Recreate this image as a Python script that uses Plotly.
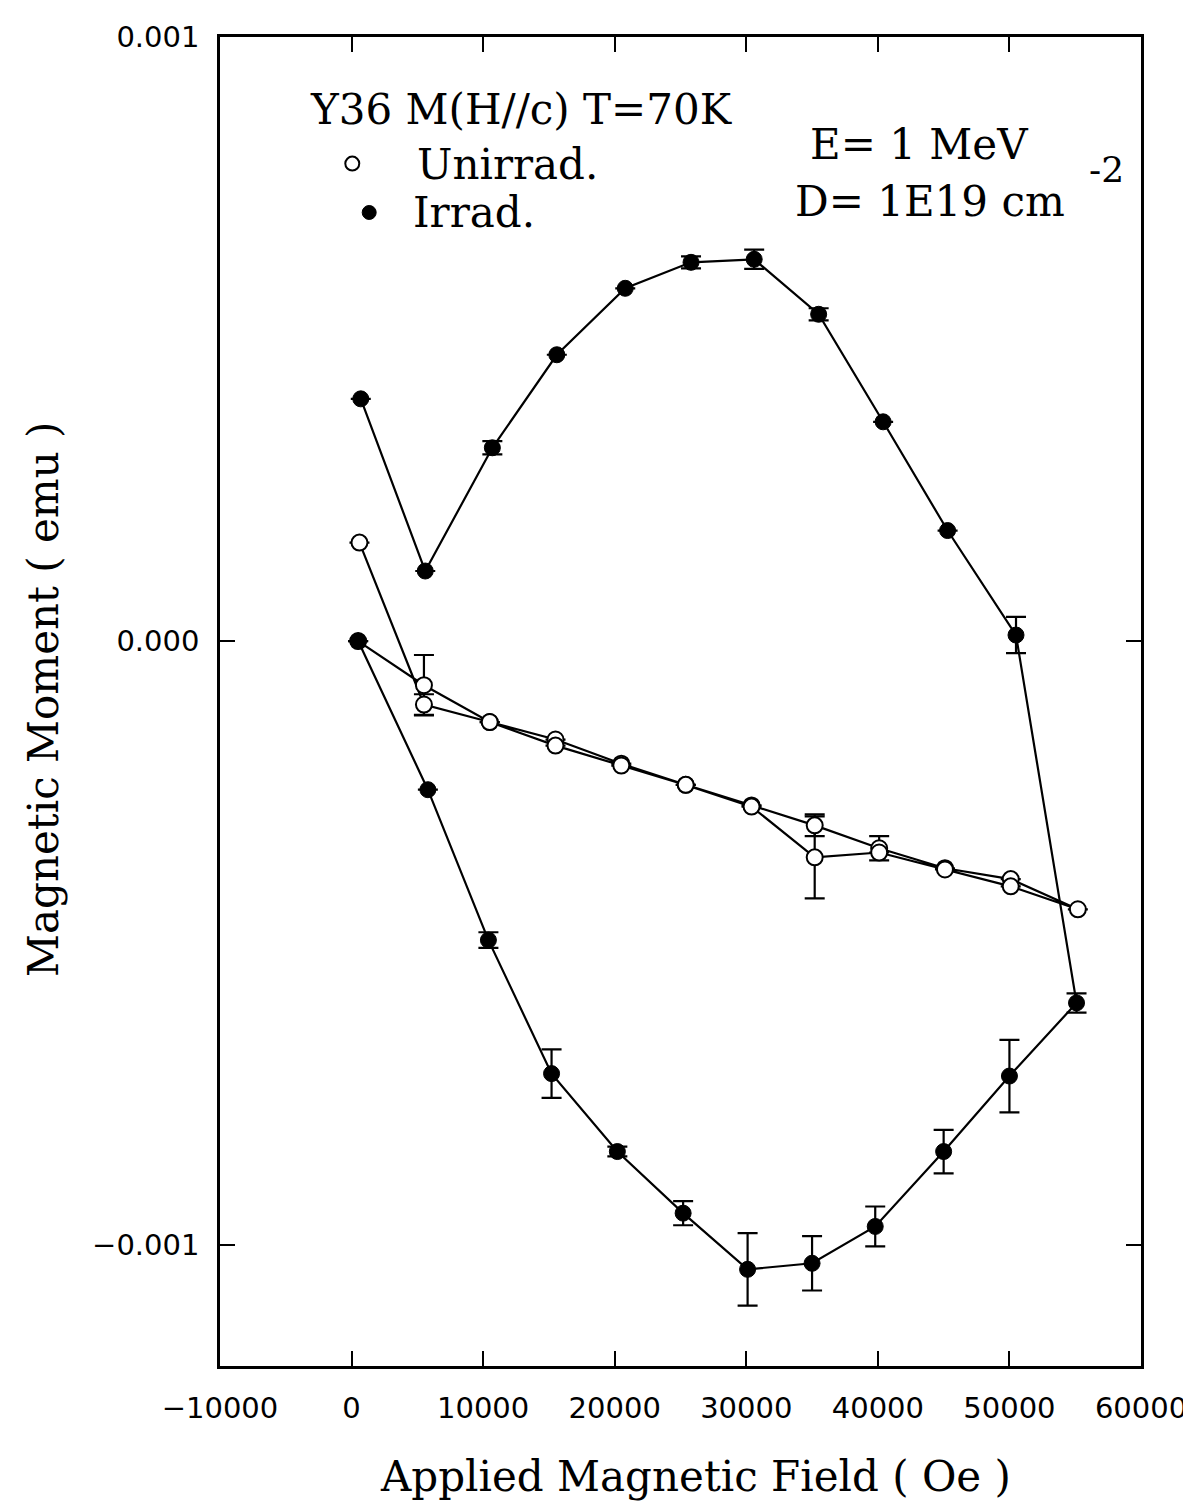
import plotly.graph_objects as go

# ---- Data ----
# Unirradiated (open circles), measurement order
unirr_H = [500, 5500, 10500, 15500, 20500, 25400, 30400, 35200, 40100, 45100, 50100, 55200,
           50100, 45100, 40100, 35200, 30400, 25400, 20500, 15500, 10500, 5500, 600]
unirr_M = [0.0, -0.73e-4, -1.34e-4, -1.63e-4, -2.03e-4, -2.38e-4, -2.72e-4, -3.05e-4, -3.43e-4,
           -3.76e-4, -3.94e-4, -4.44e-4,
           -4.06e-4, -3.78e-4, -3.50e-4, -3.58e-4, -2.74e-4, -2.38e-4, -2.06e-4, -1.73e-4,
           -1.34e-4, -1.05e-4, 1.63e-4]
unirr_err = [0, 0.50e-4, 0, 0, 0, 0, 0, 0.18e-4, 0.20e-4, 0, 0, 0,
             0, 0, 0, 0.68e-4, 0, 0, 0, 0, 0, 0.17e-4, 0]

# Irradiated (filled circles), measurement order
irr_H = [500, 5800, 10400, 15200, 20200, 25200, 30100, 35000, 39800, 45000, 50000, 55100,
         50500, 45300, 40400, 35500, 30600, 25800, 20800, 15600, 10700, 5600, 700]
irr_M = [0.0, -2.46e-4, -4.95e-4, -7.16e-4, -8.45e-4, -9.47e-4, -10.4e-4, -10.3e-4, -9.69e-4,
         -8.45e-4, -7.20e-4, -5.99e-4,
         0.10e-4, 1.83e-4, 3.63e-4, 5.41e-4, 6.32e-4, 6.27e-4, 5.84e-4, 4.74e-4, 3.20e-4,
         1.16e-4, 4.01e-4]
irr_err = [0, 0, 0.13e-4, 0.40e-4, 0.08e-4, 0.20e-4, 0.60e-4, 0.45e-4, 0.33e-4, 0.36e-4,
           0.60e-4, 0.16e-4,
           0.30e-4, 0, 0, 0.10e-4, 0.16e-4, 0.10e-4, 0, 0, 0.11e-4, 0, 0]

x_ticks = [-10000, 0, 10000, 20000, 30000, 40000, 50000, 60000]
x_tick_labels = ["\u221210000", "0", "10000", "20000", "30000", "40000", "50000", "60000"]
y_ticks = [-0.001, 0.0, 0.001]
y_tick_labels = ["\u22120.001", "0.000", "0.001"]

SERIF = "DejaVu Serif"
SANS = "DejaVu Sans"

fig = go.Figure()

fig.add_trace(go.Scatter(
    x=unirr_H, y=unirr_M, mode="lines+markers",
    line=dict(color="black", width=2.2),
    marker=dict(symbol="circle", size=16, color="white", line=dict(color="black", width=2)),
    error_y=dict(type="data", array=unirr_err, visible=True, color="black", thickness=2.2, width=10),
    showlegend=False,
))
fig.add_trace(go.Scatter(
    x=irr_H, y=irr_M, mode="lines+markers",
    line=dict(color="black", width=2.2),
    marker=dict(symbol="circle", size=16, color="black", line=dict(color="black", width=1)),
    error_y=dict(type="data", array=irr_err, visible=True, color="black", thickness=2.2, width=10),
    showlegend=False,
))

L, R, T, B = 212, 1138, 25, 1358
W, H = 1191, 1504


def px(xp):
    return (xp - L) / (R - L)


def py(yp):
    return (B - yp) / (B - T)


annotations = [
    dict(text="Y36 M(H//c) T=70K", x=px(300), y=py(98), xanchor="left", yanchor="middle"),
    dict(text="Unirrad.", x=px(408), y=py(153), xanchor="left", yanchor="middle"),
    dict(text="Irrad.", x=px(404), y=py(201), xanchor="left", yanchor="middle"),
    dict(text="E= 1 MeV", x=px(803), y=py(133), xanchor="left", yanchor="middle"),
    dict(text="D= 1E19 cm", x=px(788), y=py(190), xanchor="left", yanchor="middle"),
    dict(text="-2", x=px(1084), y=py(158), xanchor="left", yanchor="middle", size=36),
    dict(text="Applied Magnetic Field ( Oe )", x=px(690), y=0, yshift=-(1468 - B),
         xanchor="center", yanchor="middle"),
    dict(text="Magnetic Moment ( emu )", x=0, xshift=-(L - 35), y=py(690),
         xanchor="center", yanchor="middle", textangle=-90),
]
ann_objs = []
for a in annotations:
    size = a.pop("size", 42)
    ann_objs.append(dict(xref="paper", yref="paper", showarrow=False,
                         font=dict(family=SERIF, size=size, color="black"), **a))

shapes = [
    dict(type="circle", xref="paper", yref="paper", xsizemode="pixel", ysizemode="pixel",
         xanchor=px(345), yanchor=py(152), x0=-7, x1=7, y0=-7, y1=7,
         line=dict(color="black", width=2), fillcolor="white"),
    dict(type="circle", xref="paper", yref="paper", xsizemode="pixel", ysizemode="pixel",
         xanchor=px(362), yanchor=py(201), x0=-7, x1=7, y0=-7, y1=7,
         line=dict(color="black", width=1), fillcolor="black"),
]

fig.update_layout(
    width=W, height=H,
    margin=dict(l=L, r=W - R, t=T, b=H - B, pad=0),
    paper_bgcolor="white", plot_bgcolor="white",
    annotations=ann_objs, shapes=shapes,
    xaxis=dict(range=[-10000, 60000], tickvals=x_ticks, ticktext=x_tick_labels,
               ticks="inside", ticklen=15, tickwidth=2, tickcolor="black",
               showline=True, linewidth=2.5, linecolor="black", mirror="ticks",
               showgrid=False, zeroline=False, ticklabelstandoff=14,
               tickfont=dict(family=SANS, size=29, color="black")),
    yaxis=dict(range=[-0.0012, 0.001], tickvals=y_ticks, ticktext=y_tick_labels,
               ticks="inside", ticklen=15, tickwidth=2, tickcolor="black",
               showline=True, linewidth=2.5, linecolor="black", mirror="ticks",
               showgrid=False, zeroline=False, ticklabelstandoff=12,
               tickfont=dict(family=SANS, size=29, color="black")),
)

fig.write_html("out.html")
